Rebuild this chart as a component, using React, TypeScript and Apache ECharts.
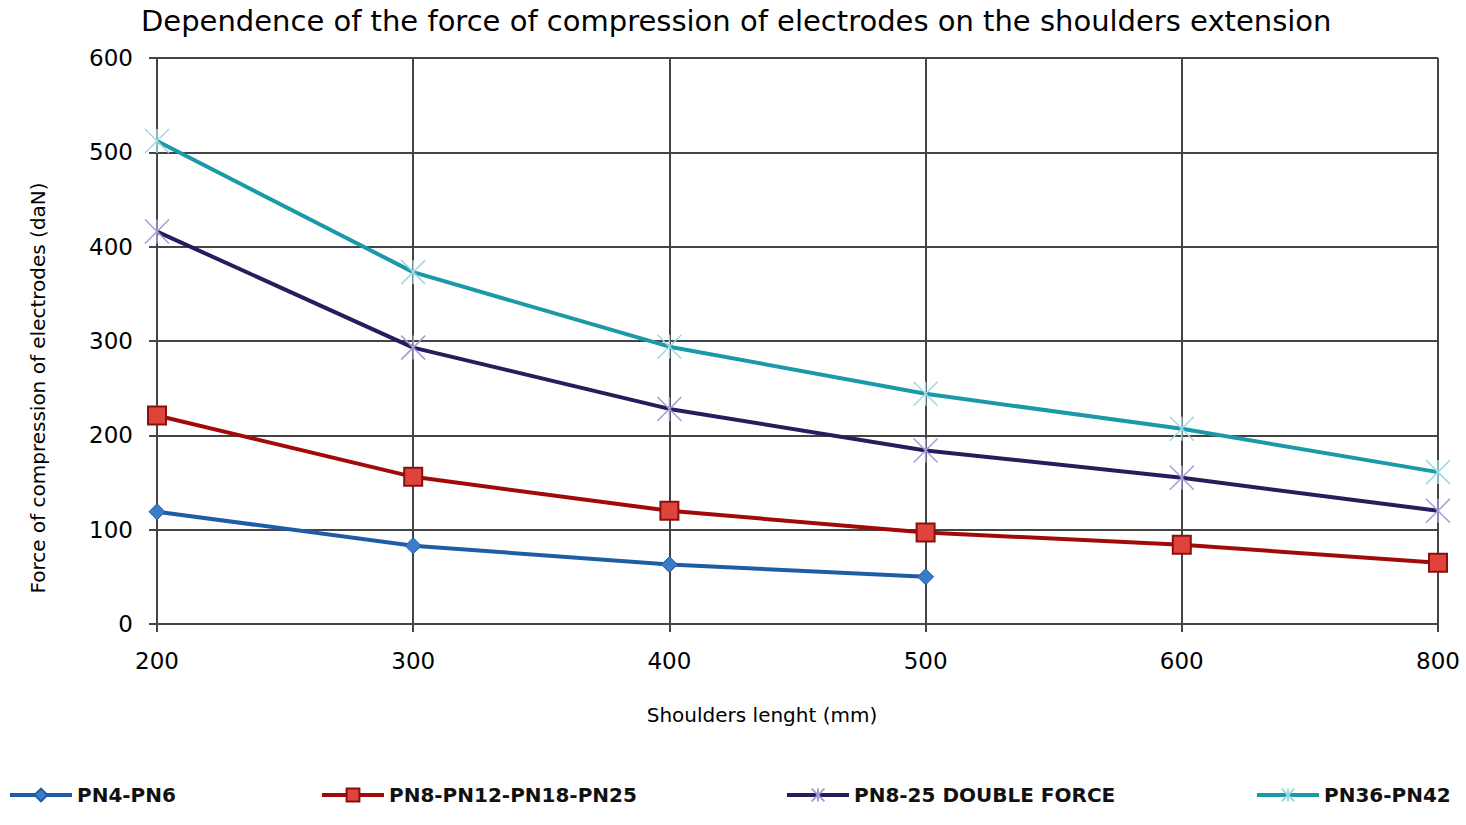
import React, { useEffect, useRef } from "react";
import * as echarts from "echarts";

const categories = ["200", "300", "400", "500", "600", "800"];
const seriesNames = ["PN4-PN6", "PN8-PN12-PN18-PN25", "PN8-25 DOUBLE FORCE", "PN36-PN42"];
const pn4pn6 = [119, 83, 63, 50, null, null];
const pn8pn25 = [221, 156, 120, 97, 84, 65];
const doubleForce = [416, 293, 228, 184, 155, 120];
const pn36pn42 = [512, 373, 294, 244, 207, 161];
const yTicks = { min: 0, max: 600, interval: 100 };
const xAxisName = "Shoulders lenght (mm)";
const yAxisName = "Force of compression of electrodes (daN)";

const FONT = "DejaVu Sans";
const starPath = "path://M0,0L10,10M10,0L0,10M5,0L5,10";

export default function App() {
  const ref = useRef<HTMLDivElement>(null);
  useEffect(() => {
    document.body.style.margin = "0";
    const chart = echarts.init(ref.current!, null, { renderer: "svg" });
    const legendLefts = [3, 315, 780, 1250];
    chart.setOption({
      animation: false,
      backgroundColor: "#ffffff",
      title: {
        text: "Dependence of the force of compression of electrodes on the shoulders extension",
        left: 136,
        top: 1,
        textStyle: { fontFamily: FONT, fontSize: 29, fontWeight: "normal", color: "#000" },
      },
      graphic: [
        {
          type: "text",
          x: 762,
          y: 715,
          style: {
            text: xAxisName,
            fontFamily: FONT,
            fontSize: 20,
            fill: "#000",
            align: "center",
            verticalAlign: "middle",
          },
        },
        {
          type: "text",
          x: 38,
          y: 388,
          rotation: Math.PI / 2,
          style: {
            text: yAxisName,
            fontFamily: FONT,
            fontSize: 20,
            fill: "#000",
            align: "center",
            verticalAlign: "middle",
          },
        },
      ],
      legend: seriesNames.map((n, i) => ({
        data: [n],
        left: legendLefts[i],
        top: 780,
        itemWidth: 62,
        itemHeight: 16,
        itemGap: 6,
        lineStyle: { width: 4 },
        textStyle: { fontFamily: FONT, fontSize: 20, fontWeight: "bold", color: "#111" },
      })),
      grid: { left: 157, right: 28, top: 58, bottom: 201, containLabel: false },
      xAxis: {
        type: "category",
        data: categories,
        boundaryGap: false,
        axisLine: { show: true, lineStyle: { color: "#444", width: 2 } },
        axisTick: { show: true, length: 8, lineStyle: { color: "#444", width: 2 } },
        axisLabel: { fontFamily: FONT, fontSize: 23, color: "#000", margin: 25 },
        splitLine: { show: true, lineStyle: { color: "#444", width: 2 } },
      },
      yAxis: {
        type: "value",
        min: yTicks.min,
        max: yTicks.max,
        interval: yTicks.interval,
        axisLine: { show: true, lineStyle: { color: "#444", width: 2 } },
        axisTick: { show: true, length: 8, lineStyle: { color: "#444", width: 2 } },
        axisLabel: { fontFamily: FONT, fontSize: 23, color: "#000", margin: 24 },
        splitLine: { show: true, lineStyle: { color: "#444", width: 2 } },
      },
      series: [
        {
          name: seriesNames[0],
          type: "line",
          data: pn4pn6,
          connectNulls: false,
          symbol: "diamond",
          symbolSize: 16,
          lineStyle: { color: "#1f5ca6", width: 4 },
          itemStyle: { color: "#3a7cc8", borderColor: "#1f5ca6", borderWidth: 1 },
        },
        {
          name: seriesNames[1],
          type: "line",
          data: pn8pn25,
          symbol: "rect",
          symbolSize: 18,
          lineStyle: { color: "#a20a0a", width: 4 },
          itemStyle: { color: "#e0433c", borderColor: "#8a1010", borderWidth: 2 },
        },
        {
          name: seriesNames[2],
          type: "line",
          data: doubleForce,
          symbol: starPath,
          symbolSize: 24,
          lineStyle: { color: "#2b1b5c", width: 4 },
          itemStyle: { color: "#2b1b5c", borderColor: "#a89ad6", borderWidth: 1.5 },
        },
        {
          name: seriesNames[3],
          type: "line",
          data: pn36pn42,
          symbol: starPath,
          symbolSize: 24,
          lineStyle: { color: "#1a9aa8", width: 4 },
          itemStyle: { color: "#1a9aa8", borderColor: "#9fd8e0", borderWidth: 1.5 },
        },
      ],
    });
    return () => chart.dispose();
  }, []);
  return <div ref={ref} style={{ width: 1466, height: 825 }} />;
}
